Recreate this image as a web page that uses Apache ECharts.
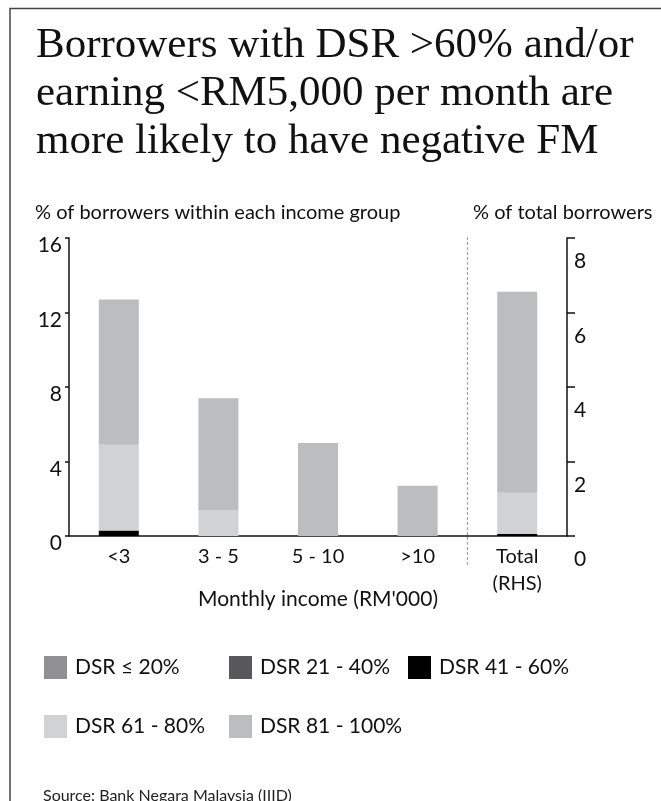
<!DOCTYPE html>
<html>
<head>
<meta charset="utf-8">
<script src="https://cdn.jsdelivr.net/npm/echarts@6/dist/echarts.min.js"></script>
<style>
  html, body { margin: 0; padding: 0; background: #fff; }
  #chart { width: 661px; height: 801px; }
</style>
</head>
<body>
<div id="chart"></div>
<script>
// categories (last one is read on the right-hand axis)
const categories = ["<3", "3 - 5", "5 - 10", ">10", "Total\n(RHS)"];
const leftTicks = [0, 4, 8, 12, 16];
const rightTicks = [0, 2, 4, 6, 8];

// % of borrowers within each income group (LHS)
const dsr20 = ["-", "-", "-", "-", "-"];
const dsr40 = ["-", "-", "-", "-", "-"];
const dsr60 = [0.3, 0, 0, 0, "-"];
const dsr80 = [4.6, 1.4, 0, 0, "-"];
const dsr100 = [7.8, 6.0, 5.0, 2.7, "-"];

// % of total borrowers (RHS)
const totalDsr60 = ["-", "-", "-", "-", 0.06];
const totalDsr80 = ["-", "-", "-", "-", 1.1];
const totalDsr100 = ["-", "-", "-", "-", 5.4];

const names = ["DSR ≤ 20%", "DSR 21 - 40%", "DSR 41 - 60%", "DSR 61 - 80%", "DSR 81 - 100%"];
const colors = ["#909092", "#58585a", "#000000", "#d1d2d4", "#bcbdbf"];

const sans = "Lato";
const serif = "Liberation Serif";

const chart = echarts.init(document.getElementById("chart"));

function bar(i, data, axis) {
  return {
    name: names[i],
    type: "bar",
    yAxisIndex: axis,
    stack: axis === 0 ? "income" : "total",
    barWidth: 40,
    barGap: "-100%",
    itemStyle: { color: colors[i] },
    data: data,
  };
}

function legendItem(i, left, top) {
  return {
    data: [names[i]],
    left: left,
    top: top,
    padding: 0,
    icon: "rect",
    itemWidth: 23,
    itemHeight: 23,
    selectedMode: false,
    textStyle: { fontFamily: sans, fontSize: 21, color: "#111", padding: [0, 0, 0, 3] },
  };
}

const option = {
  animation: false,
  title: [
    {
      text: "Borrowers with DSR >60% and/or\nearning <RM5,000 per month are\nmore likely to have negative FM",
      left: 31,
      top: 17,
      textStyle: { fontFamily: serif, fontSize: 43, fontWeight: "normal", lineHeight: 48, color: "#111" },
    },
    {
      text: "% of borrowers within each income group",
      left: 30,
      top: 198,
      textStyle: { fontFamily: sans, fontSize: 20, fontWeight: "normal", color: "#111" },
    },
    {
      text: "% of total borrowers",
      left: 468,
      top: 198,
      textStyle: { fontFamily: sans, fontSize: 20, fontWeight: "normal", color: "#111" },
    },
    {
      text: "Source: Bank Negara Malaysia (IIID)",
      left: 38,
      top: 783,
      textStyle: { fontFamily: sans, fontSize: 16, fontWeight: "normal", color: "#222" },
    },
  ],
  legend: [
    legendItem(0, 44, 656),
    legendItem(1, 229, 656),
    legendItem(2, 408, 656),
    legendItem(3, 44, 715),
    legendItem(4, 229, 715),
  ],
  grid: { left: 69, right: 94, top: 238, bottom: 265 },
  xAxis: {
    type: "category",
    data: categories,
    name: "Monthly income (RM'000)",
    nameLocation: "middle",
    nameGap: 53,
    nameMoveOverlap: false,
    nameTextStyle: { fontFamily: sans, fontSize: 21, color: "#111" },
    axisLine: { lineStyle: { color: "#111", width: 1.5 } },
    axisTick: {
      length: 6,
      lineStyle: { color: "#111", width: 1.5 },
      interval: 0,
    },
    axisLabel: { fontFamily: sans, fontSize: 20, color: "#111", margin: 7, lineHeight: 27, interval: 0 },
  },
  yAxis: [
    {
      type: "value",
      min: leftTicks[0],
      max: leftTicks[leftTicks.length - 1],
      interval: leftTicks[1] - leftTicks[0],
      position: "left",
      splitLine: { show: false },
      axisLine: { show: true, lineStyle: { color: "#111", width: 1.5 } },
      axisTick: { show: true, length: 4, lineStyle: { color: "#111", width: 1.5 } },
      axisLabel: { fontFamily: sans, fontSize: 21, color: "#111", margin: 7, verticalAlign: "top", padding: [-3, 0, 0, 0] },
    },
    {
      type: "value",
      min: rightTicks[0],
      max: rightTicks[rightTicks.length - 1],
      interval: rightTicks[1] - rightTicks[0],
      position: "right",
      splitLine: { show: false },
      axisLine: { show: true, lineStyle: { color: "#111", width: 1.5 } },
      axisTick: { show: true, length: 8, lineStyle: { color: "#111", width: 1.5 } },
      axisLabel: { fontFamily: sans, fontSize: 21, color: "#111", margin: 7, verticalAlign: "top", padding: [13, 0, 0, 0] },
    },
  ],
  series: [
    bar(0, dsr20, 0),
    bar(1, dsr40, 0),
    bar(2, dsr60, 0),
    bar(3, dsr80, 0),
    bar(4, dsr100, 0),
    bar(2, totalDsr60, 1),
    bar(3, totalDsr80, 1),
    bar(4, totalDsr100, 1),
  ],
};

chart.setOption(option);

// frame and the dashed divider before the RHS bar
const xA = chart.convertToPixel({ xAxisIndex: 0 }, categories[3]);
const xB = chart.convertToPixel({ xAxisIndex: 0 }, categories[4]);
const yTop = chart.convertToPixel({ yAxisIndex: 0 }, leftTicks[leftTicks.length - 1]);
const yBase = chart.convertToPixel({ yAxisIndex: 0 }, 0);
chart.setOption({
  graphic: [
    {
      type: "polyline",
      shape: { points: [[10, 801], [10, 8.5], [661, 8.5]] },
      style: { stroke: "#444", lineWidth: 1.5, fill: null },
      silent: true,
    },
    {
      type: "line",
      shape: { x1: (xA + xB) / 2, y1: yTop - 1, x2: (xA + xB) / 2, y2: yBase + 29 },
      style: { stroke: "#999", lineWidth: 1, lineDash: [3, 2] },
      silent: true,
    },
  ],
});
</script>
</body>
</html>
